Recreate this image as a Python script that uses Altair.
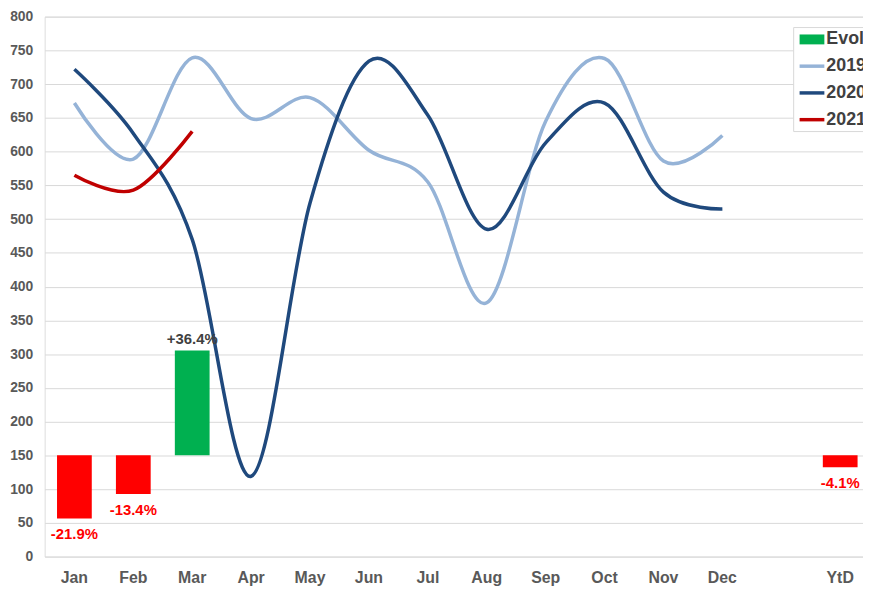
import altair as alt
import pandas as pd

# ---------------- data ----------------
months = ["Jan", "Feb", "Mar", "Apr", "May", "Jun", "Jul", "Aug", "Sep", "Oct", "Nov", "Dec"]
categories = months + [" ", "YtD"]

sales_2019 = [672, 589, 739, 649, 680, 602, 555, 376, 645, 738, 586, 624]
sales_2020 = [722, 627, 470, 119, 524, 734, 654, 485, 613, 672, 540, 515]
sales_2021 = [565, 543, 630]

evol_cats = ["Jan", "Feb", "Mar", "YtD"]
evol_pct = [-21.9, -13.4, 36.4, -4.1]
evol_labels = ["-21.9%", "-13.4%", "+36.4%", "-4.1%"]
evol_base = 150
evol_units_per_pct = 4.27

series_names = ["Evol", "2019", "2020", "2021"]
series_colors = ["#00B050", "#95B3D7", "#1F497D", "#C00000"]

FONT = "Liberation Sans"
GRID = "#D9D9D9"
AXIS_TXT = "#595959"

# ---------------- tables ----------------
lines_df = pd.concat([
    pd.DataFrame({"cat": months[:len(v)], "value": v, "series": s})
    for s, v in [("2019", sales_2019), ("2020", sales_2020), ("2021", sales_2021)]
], ignore_index=True)

evol_df = pd.DataFrame({"cat": evol_cats, "pct": evol_pct, "label": evol_labels})
evol_df["base"] = evol_base
evol_df["end"] = evol_base + evol_df["pct"] * evol_units_per_pct

legend_df = pd.DataFrame({"name": series_names, "color": series_colors, "row": range(4)})

# ---------------- scales ----------------
x_scale = alt.Scale(domain=categories, paddingInner=0.41, paddingOuter=0.151, align=0.695, round=False)
y_scale = alt.Scale(domain=[0, 800], nice=False, zero=True)
color_scale = alt.Scale(domain=series_names, range=series_colors)

x_axis = alt.Axis(title=None, labelAngle=0, ticks=False, domain=False, grid=False,
                  labelFont=FONT, labelFontSize=16, labelFontWeight="bold",
                  labelColor=AXIS_TXT, labelPadding=13)
y_axis = alt.Axis(title=None, values=list(range(0, 801, 50)), ticks=False, domain=False,
                  grid=True, gridColor=GRID, gridWidth=1, labelOverlap=False,
                  labelFont=FONT, labelFontSize=14, labelFontWeight="bold",
                  labelColor=AXIS_TXT, labelPadding=12)


def X(field="cat:N", **kw):
    return alt.X(field, scale=x_scale, axis=x_axis, sort=categories, **kw)


def Y(field):
    return alt.Y(field, scale=y_scale, axis=y_axis)


bars = alt.Chart(evol_df).mark_bar(color="#FF0000").encode(
    x=X(),
    y=Y("base:Q"),
    y2="end:Q",
    color=alt.condition("datum.pct > 0", alt.value("#00B050"), alt.value("#FF0000")),
)

neg_text = alt.Chart(evol_df).transform_filter("datum.pct < 0").mark_text(
    font=FONT, fontSize=15, fontWeight="bold", color="#FF0000", baseline="top", dy=9
).encode(
    x=X(bandPosition=0.5),
    y=Y("end:Q"),
    text="label:N",
)

pos_text = alt.Chart(evol_df).transform_filter("datum.pct > 0").mark_text(
    font=FONT, fontSize=15, fontWeight="bold", color="#404040", baseline="bottom", dy=-3
).encode(
    x=X(bandPosition=0.5),
    y=Y("end:Q"),
    text="label:N",
)

lines = alt.Chart(lines_df).mark_line(interpolate="cardinal", tension=0, strokeWidth=3.5).encode(
    x=X(bandPosition=0.5),
    y=Y("value:Q"),
    color=alt.Color("series:N", scale=color_scale, legend=None),
    detail="series:N",
)

# ---------------- legend (drawn manually, Excel style) ----------------
legend_box = alt.Chart(pd.DataFrame({"k": [0]})).mark_rect(
    fill="white", stroke=GRID, strokeWidth=1
).encode(
    x=alt.value(756), x2=alt.value(840), y=alt.value(11), y2=alt.value(116)
)

legend_base = alt.Chart(legend_df).transform_calculate(
    ly="23 + datum.row * 27"
)

legend_bar = legend_base.transform_filter("datum.row == 0").mark_rect().encode(
    x=alt.value(762), x2=alt.value(787),
    y=alt.Y("ly0:Q", scale=None), y2=alt.Y2("ly1:Q"),
    color=alt.Color("color:N", scale=None),
).transform_calculate(ly0="datum.ly - 5", ly1="datum.ly + 5")

legend_lines = legend_base.transform_filter("datum.row > 0").mark_rule(strokeWidth=3.5).encode(
    x=alt.value(762), x2=alt.value(787),
    y=alt.Y("ly:Q", scale=None),
    color=alt.Color("color:N", scale=None),
)

legend_text = legend_base.mark_text(
    font=FONT, fontSize=18, fontWeight="bold", color="#404040", align="left", baseline="middle", dx=0
).encode(
    x=alt.value(789),
    y=alt.Y("ly:Q", scale=None),
    text="name:N",
)

chart = alt.layer(
    bars, lines, neg_text, pos_text, legend_box, legend_bar, legend_lines, legend_text
).resolve_scale(color="independent").properties(
    width=826, height=545,
    autosize=alt.AutoSizeParams(type="none"),
    padding={"left": 37, "top": 6, "right": 0, "bottom": 30},
).configure_view(stroke=None).configure(background="white").configure_axisY(
    labelOverlap=False
)

chart.save("out.html", embed_options={"renderer": "svg", "actions": False})
